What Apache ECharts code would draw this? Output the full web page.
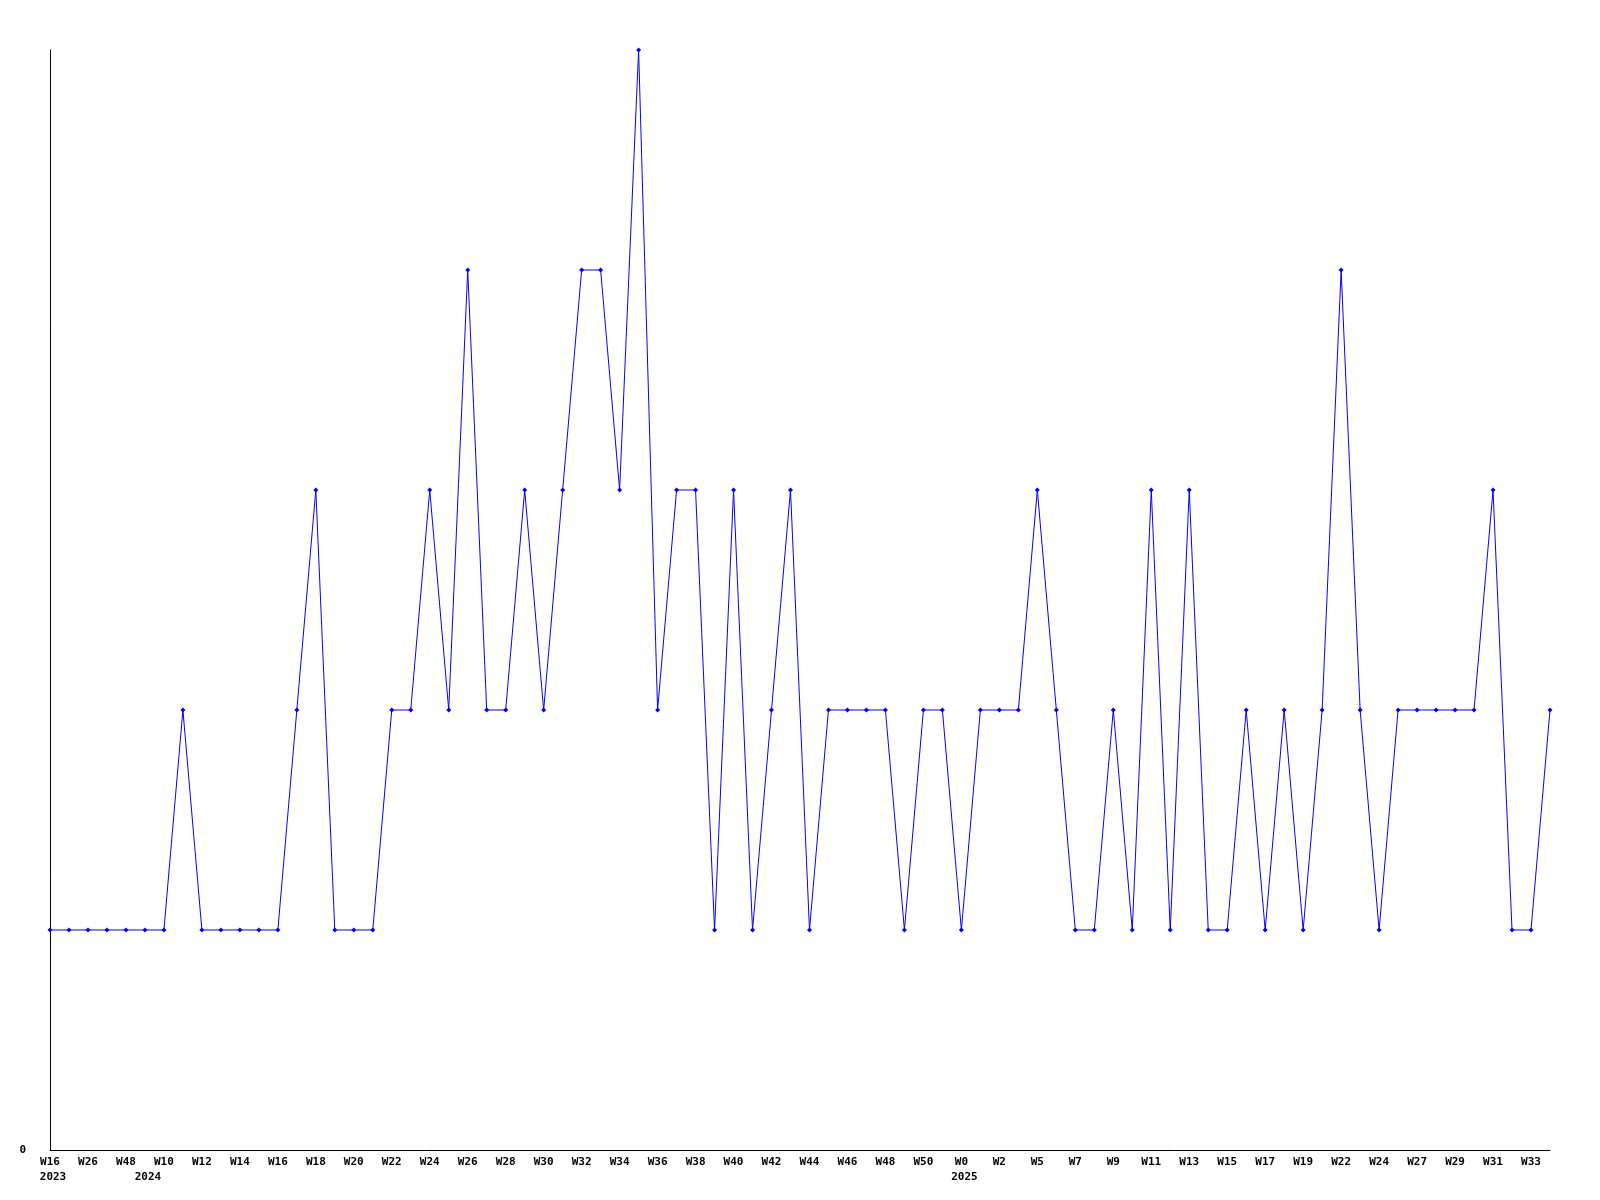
<!DOCTYPE html>
<html>
<head>
<meta charset="utf-8">
<script src="https://cdn.jsdelivr.net/npm/echarts@6/dist/echarts.min.js"></script>
<style>html,body{margin:0;padding:0;background:#fff;}#c{width:1600px;height:1200px;}</style>
</head>
<body>
<div id="c"></div>
<script>
const weeks = ['W16','W21','W26','W37','W48','W1','W10','W11','W12','W13',
  'W14','W15','W16','W17','W18','W19','W20','W21','W22','W23',
  'W24','W25','W26','W27','W28','W29','W30','W31','W32','W33',
  'W34','W35','W36','W37','W38','W39','W40','W41','W42','W43',
  'W44','W45','W46','W47','W48','W49','W50','W51','W0','W1',
  'W2','W3','W5','W6','W7','W8','W9','W10','W11','W12',
  'W13','W14','W15','W16','W17','W18','W19','W20','W22','W23',
  'W24','W25','W27','W28','W29','W30','W31','W32','W33','W34'];
const counts = [1,1,1,1,1,1,1,2,1,1,
  1,1,1,2,3,1,1,1,2,2,
  3,2,4,2,2,3,2,3,4,4,
  3,5,2,3,3,1,3,1,2,3,
  1,2,2,2,2,1,2,2,1,2,
  2,2,3,2,1,1,2,1,3,1,
  3,1,1,2,1,2,1,2,4,2,
  1,2,2,2,2,2,3,1,1,2];
const yearMarks = [[0,'2023'],[5,'2024'],[48,'2025']];
const yTicks = [0];

const yearRow = weeks.map(() => '');
yearMarks.forEach(([i, y]) => { yearRow[i] = y; });

const font = {fontFamily: 'DejaVu Sans Mono', fontWeight: 'bold', fontSize: 11, color: '#000'};
const chart = echarts.init(document.getElementById('c'), null, {renderer: 'canvas'});
chart.setOption({
  animation: false,
  backgroundColor: '#fff',
  grid: {left: 50, right: 50, top: 50, bottom: 50, containLabel: false},
  xAxis: [{
    type: 'category', data: weeks, boundaryGap: false,
    axisLine: {lineStyle: {color: '#000', width: 1}},
    axisTick: {show: false},
    axisLabel: Object.assign({interval: 1, margin: 7}, font),
    splitLine: {show: false}
  }, {
    type: 'category', data: yearRow, boundaryGap: false, position: 'bottom', offset: 15,
    axisLine: {show: false}, axisTick: {show: false},
    axisLabel: Object.assign({interval: 0, margin: 7, padding: [0, 0, 0, 6]}, font),
    splitLine: {show: false}
  }],
  yAxis: {
    type: 'value', min: 0, max: 5, interval: 5,
    axisLine: {show: true, lineStyle: {color: '#000', width: 1}},
    axisTick: {show: false},
    splitLine: {show: false},
    axisLabel: Object.assign({margin: 24, formatter: v => yTicks.includes(v) ? String(v) : ''}, font)
  },
  series: [{
    type: 'line', data: counts, xAxisIndex: 0,
    symbol: 'diamond', symbolSize: 5, showAllSymbol: true,
    lineStyle: {color: '#0000ff', width: 1},
    itemStyle: {color: '#0000ff'},
    emphasis: {disabled: true}
  }]
});
</script>
</body>
</html>
